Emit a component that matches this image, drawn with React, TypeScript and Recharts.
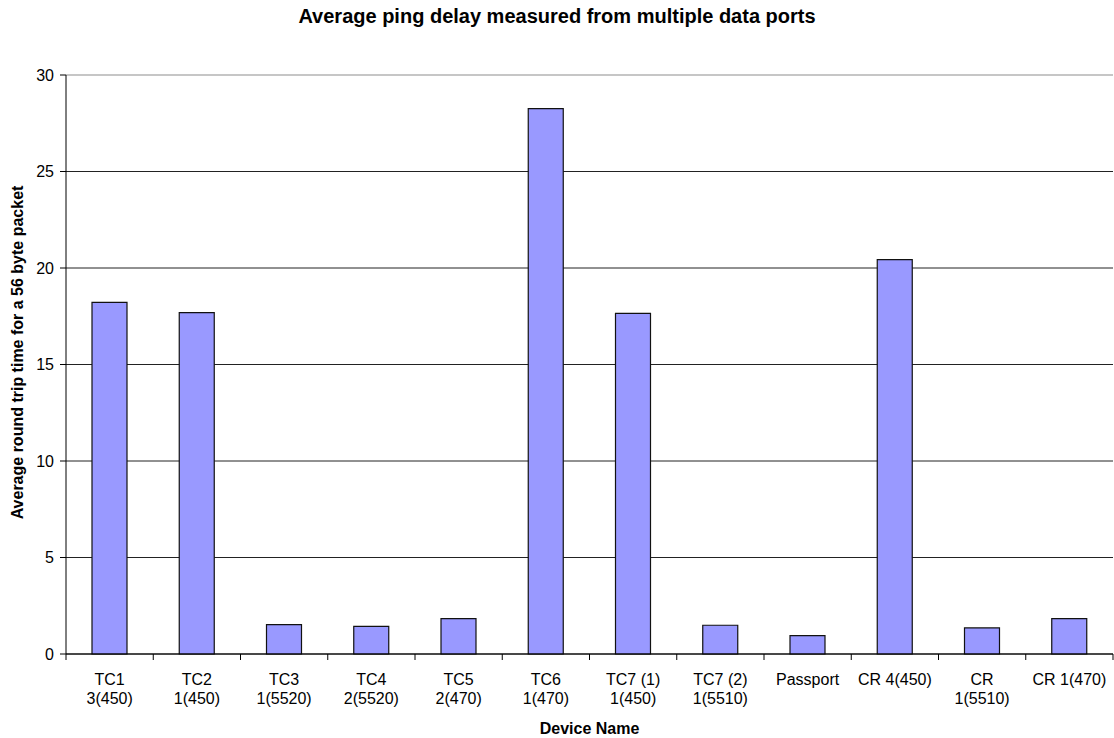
import React from 'react';
import { BarChart, Bar, XAxis, YAxis, CartesianGrid, ReferenceLine } from 'recharts';

const DEVICES = [
  'TC1\n3(450)',
  'TC2\n1(450)',
  'TC3\n1(5520)',
  'TC4\n2(5520)',
  'TC5\n2(470)',
  'TC6\n1(470)',
  'TC7 (1)\n1(450)',
  'TC7 (2)\n1(5510)',
  'Passport',
  'CR 4(450)',
  'CR\n1(5510)',
  'CR 1(470)'
];
const DELAYS = [18.22, 17.69, 1.52, 1.43, 1.83, 28.26, 17.65, 1.49, 0.95, 20.43, 1.35, 1.83];
const Y_TICKS = [0, 5, 10, 15, 20, 25, 30];

const data = DEVICES.map((name, i) => ({ name, delay: DELAYS[i] }));

const W = 1114;
const H = 738;
const LEFT = 66;
const RIGHT = 1;
const BAND = (W - LEFT - RIGHT) / DEVICES.length;
const FONT = '"Liberation Sans", Arial, sans-serif';

const DeviceTick = (props: any) => {
  const { x, y, payload, index } = props;
  const lines = String(payload.value).split('\n');
  const ax = y - 8;
  return (
    <g>
      <line x1={x - BAND / 2} x2={x - BAND / 2} y1={ax} y2={ax + 6} stroke="#000" />
      {index === DEVICES.length - 1 && (
        <line x1={x + BAND / 2} x2={x + BAND / 2} y1={ax} y2={ax + 6} stroke="#000" />
      )}
      <text x={x} y={ax + 31} textAnchor="middle" fontSize={16} fontFamily={FONT} fill="#000">
        {lines.map((l, i) => (
          <tspan key={i} x={x} dy={i === 0 ? 0 : 18.5}>
            {l}
          </tspan>
        ))}
      </text>
    </g>
  );
};

export default function App() {
  return (
    <div style={{ position: 'absolute', left: 0, top: 0, width: W, height: H, background: '#fff' }}>
      <div
        style={{
          position: 'absolute',
          top: 5,
          left: 0,
          width: W,
          textAlign: 'center',
          fontFamily: FONT,
          fontWeight: 'bold',
          fontSize: 20
        }}
      >
        Average ping delay measured from multiple data ports
      </div>
      <BarChart width={W} height={H} data={data} margin={{ top: 75, right: RIGHT, left: 0, bottom: 0 }} barCategoryGap={0}>
        <CartesianGrid vertical={false} stroke="#222" />
        <ReferenceLine y={30} stroke="#d9d9d9" strokeWidth={1.5} />
        <XAxis
          dataKey="name"
          height={84}
          interval={0}
          tickLine={false}
          axisLine={{ stroke: '#000' }}
          tick={<DeviceTick />}
          label={{
            value: 'Device Name',
            position: 'insideBottom',
            offset: 4,
            style: { fontFamily: FONT, fontWeight: 'bold', fontSize: 16, fill: '#000' }
          }}
        />
        <YAxis
          width={LEFT}
          domain={[0, 30]}
          ticks={Y_TICKS}
          tickSize={6}
          tickMargin={6}
          tickLine={{ stroke: '#000' }}
          axisLine={{ stroke: '#000' }}
          tick={{ fontFamily: FONT, fontSize: 16, fill: '#000' }}
          label={{
            value: 'Average round trip time for a 56 byte packet',
            angle: -90,
            position: 'insideLeft',
            offset: 17,
            dy: -12,
            style: { textAnchor: 'middle', fontFamily: FONT, fontWeight: 'bold', fontSize: 16, fill: '#000' }
          }}
        />
        <Bar dataKey="delay" fill="#9999ff" stroke="#111" strokeWidth={1.2} barSize={35} isAnimationActive={false} />
      </BarChart>
    </div>
  );
}
